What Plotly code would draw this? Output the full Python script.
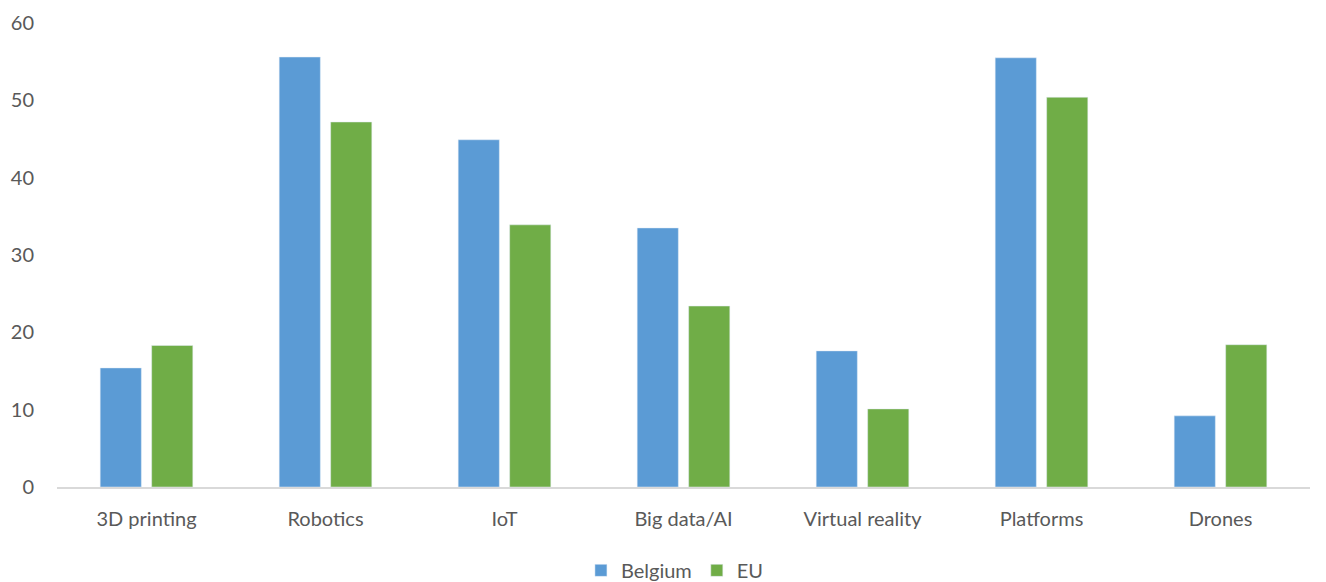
import plotly.graph_objects as go

categories = ["3D printing", "Robotics", "IoT", "Big data/AI", "Virtual reality", "Platforms", "Drones"]
belgium = [15.4, 55.6, 44.9, 33.5, 17.6, 55.5, 9.2]
eu = [18.3, 47.2, 33.9, 23.4, 10.1, 50.4, 18.4]
y_ticks = [0, 10, 20, 30, 40, 50, 60]

fig = go.Figure()
fig.add_trace(go.Bar(name="Belgium", x=categories, y=belgium, marker_color="#5b9bd5"))
fig.add_trace(go.Bar(name="EU", x=categories, y=eu, marker_color="#70ad47"))

font = dict(family="Lato, Open Sans, sans-serif", size=20, color="#595959")
fig.update_layout(
    barmode="group",
    bargap=0.425,
    bargroupgap=0.2,
    width=1326, height=582,
    margin=dict(l=57, r=16, t=23, b=95),
    plot_bgcolor="white", paper_bgcolor="white",
    font=font,
    showlegend=True,
    legend=dict(orientation="h", x=0.509, xanchor="center", xref="container",
                y=0.02, yanchor="middle", yref="container",
                font=font, itemwidth=30, traceorder="normal", tracegroupgap=0,
                borderwidth=0),
    xaxis=dict(showline=True, linecolor="#d9d9d9", linewidth=1.5, ticks="", showgrid=False,
               tickfont=font, ticklabelstandoff=13, automargin=False),
    yaxis=dict(range=[0, 60], tickvals=y_ticks, showgrid=False, zeroline=False, showline=False,
               ticks="", ticklabelstandoff=22, tickfont=font, automargin=False),
)
fig.write_html("out.html", config={"displayModeBar": False},
               post_script="document.body.style.margin='0';")
